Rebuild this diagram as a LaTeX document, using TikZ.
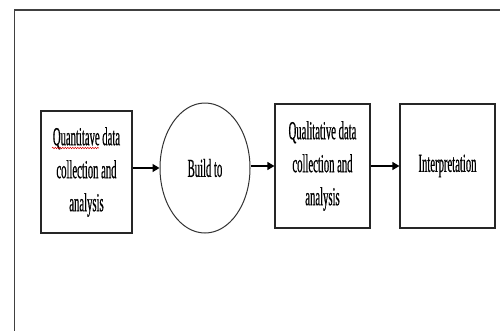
\documentclass[tikz,border=0pt]{standalone}
\usepackage{fontspec}
\setmainfont{Liberation Serif}[FakeStretch=0.41,FakeBold=0.5]
\usetikzlibrary{arrows.meta,shapes.geometric,decorations.pathmorphing}
\tikzset{
  frame/.style={draw=black!75, line width=1.4pt},
  stepbox/.style={draw=black!85, line width=1.2pt, align=center, inner sep=0pt,
    font=\fontsize{26}{33}\selectfont},
  oval/.style={ellipse, draw=black!80, line width=1pt, inner sep=0pt,
    font=\fontsize{26}{33}\selectfont},
  arr/.style={draw=black, line width=1.4pt, -{Triangle[length=7pt,width=8pt]}},
  squiggle/.style={draw=red!85!black, line width=0.5pt, decorate,
    decoration={snake, amplitude=0.7pt, segment length=2.5pt}}
}
\begin{document}
\begin{tikzpicture}[x=1pt,y=-1pt]
\useasboundingbox (0,0) rectangle (500,330);
\clip (0,0) rectangle (500,330);
\fill[white] (0,0) rectangle (500,330);
\draw[frame] (14.5,340) -- (14.5,10) -- (510,10);

\node[stepbox, minimum width=91pt, minimum height=122pt] (b1) at (86.5,172)
  {Quantitave data\\collection and\\analysis};
\node[oval, minimum width=90pt, minimum height=130pt] (c1) at (205,168)
  {\raisebox{-11pt}{Build to}};
\node[stepbox, minimum width=95pt, minimum height=124pt] (b3) at (322.5,166)
  {Qualitative data\\collection and\\analysis};
\node[stepbox, minimum width=95pt, minimum height=124pt] (b4) at (447.5,166)
  {\raisebox{4pt}{Interpretation}};

\coordinate (sqa) at (52,148);
\coordinate (sqb) at (99,148);
\draw[squiggle] (sqa) -- (sqb);

\draw[arr] (b1.east |- c1.west) -- (c1.west);
\draw[arr] (c1.east |- b3.west) -- (b3.west);
\draw[arr] (b3.east) -- (b4.west);
\end{tikzpicture}
\end{document}
